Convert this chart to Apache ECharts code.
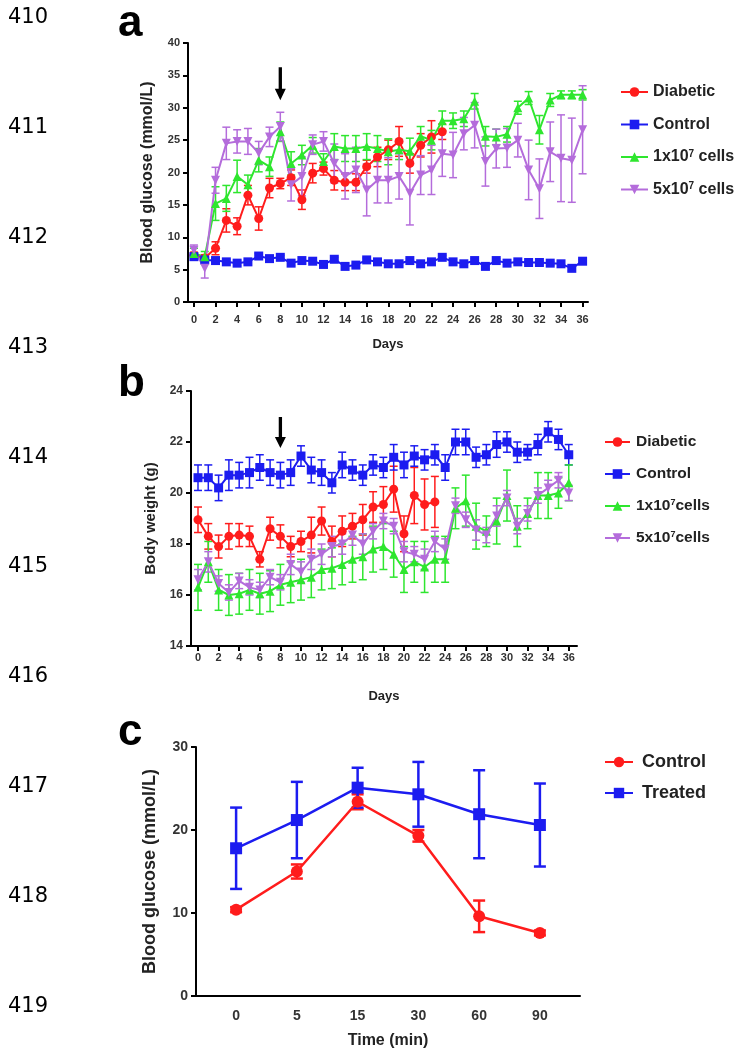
<!DOCTYPE html>
<html>
<head>
<meta charset="utf-8">
<script src="https://cdn.jsdelivr.net/npm/echarts@6.0.0/dist/echarts.min.js"></script>
<style>
html, body { margin: 0; padding: 0; background: #fff; }
#chart { width: 739px; height: 1057px; }
</style>
</head>
<body>
<div id="chart"></div>
<script>
// x values shared by panels a and b
var days = [0,1,2,3,4,5,6,7,8,9,10,11,12,13,14,15,16,17,18,19,20,21,22,23,24,25,26,27,28,29,30,31,32,33,34,35,36];
var dayTicks = [0,2,4,6,8,10,12,14,16,18,20,22,24,26,28,30,32,34,36];

// panel a - blood glucose (mmol/L)
var aDiabetic    = [7.2,6.8,8.3,12.6,11.7,16.5,12.9,17.6,18.3,19.2,15.8,19.9,20.6,18.8,18.5,18.5,20.9,22.4,23.5,24.8,21.4,24.2,25.5,26.3];
var aDiabeticErr = [0.5,0.5,1.0,1.8,1.3,1.5,1.8,1.5,0.8,1.2,1.5,1.5,1.0,1.5,1.3,1.3,1.0,1.5,1.5,2.3,1.5,1.8,2.5,1.2];
var aControl     = [7.0,6.5,6.4,6.2,6.0,6.2,7.1,6.7,6.9,6.0,6.4,6.3,5.8,6.6,5.5,5.7,6.5,6.2,5.9,5.9,6.4,5.9,6.2,6.9,6.2,5.9,6.4,5.5,6.4,6.0,6.2,6.1,6.1,6.0,5.9,5.2,6.3];
var aControlErr  = [0.4,0.3,0.3,0.3,0.4,0.3,0.4,0.3,0.3,0.4,0.3,0.3,0.4,0.3,0.4,0.3,0.3,0.3,0.3,0.3,0.3,0.3,0.3,0.3,0.3,0.3,0.3,0.4,0.3,0.3,0.3,0.3,0.3,0.3,0.3,0.4,0.3];
var aCells1      = [7.5,7.0,15.2,16.0,19.4,18.1,21.9,20.9,26.3,21.4,22.7,24.2,21.7,24.0,23.7,23.7,24.0,23.7,23.2,23.5,23.3,25.6,25.0,28.0,28.0,28.3,31.0,25.6,25.5,25.9,30.0,31.5,26.6,31.2,32.0,32.0,32.0];
var aCells1Err   = [0.8,0.8,2.6,2.0,2.5,1.5,1.8,1.5,1.5,1.8,1.5,1.2,1.2,2.0,2.0,2.0,2.0,2.0,2.0,1.5,2.0,1.5,1.5,1.5,1.2,1.2,1.2,1.5,1.2,1.2,1.0,1.0,2.2,1.0,0.6,0.6,0.8];
var aCells5      = [8.0,5.2,18.8,24.5,24.8,24.8,23.0,25.5,27.1,18.1,19.4,24.3,24.8,21.4,19.4,20.4,17.3,18.8,18.8,19.4,16.8,19.6,20.4,22.9,22.7,26.0,27.3,21.7,23.7,23.8,25.0,20.4,17.5,23.2,22.2,21.9,26.6];
var aCells5Err   = [0.8,1.5,2.0,2.5,1.8,2.0,1.8,1.5,2.2,2.5,3.0,1.5,1.5,3.0,3.5,3.5,4.0,3.5,3.5,3.5,4.9,3.0,3.8,3.5,3.5,2.5,3.5,3.8,3.0,3.0,2.6,4.6,4.6,4.6,6.7,6.5,6.8];

// panel b - body weight (g)
var bDiabetic    = [18.95,18.3,17.9,18.3,18.35,18.3,17.4,18.6,18.3,17.9,18.1,18.35,18.9,18.1,18.5,18.7,18.95,19.45,19.55,20.15,18.4,19.9,19.55,19.65];
var bDiabeticErr = [0.5,0.5,0.45,0.5,0.45,0.4,0.3,0.45,0.45,0.4,0.4,0.7,0.55,0.6,0.6,0.5,0.6,0.6,0.7,0.9,0.7,1.1,1.0,1.0];
var bControl     = [20.6,20.6,20.2,20.7,20.7,20.8,21.0,20.8,20.7,20.8,21.45,20.9,20.8,20.4,21.1,20.9,20.7,21.1,21.0,21.4,21.1,21.45,21.3,21.5,21.0,22.0,22.0,21.4,21.5,21.9,22.0,21.6,21.6,21.9,22.4,22.1,21.5];
var bControlErr  = [0.5,0.5,0.5,0.6,0.5,0.6,0.5,0.5,0.5,0.5,0.4,0.5,0.5,0.4,0.5,0.4,0.4,0.4,0.4,0.5,0.5,0.4,0.4,0.4,0.5,0.5,0.5,0.4,0.4,0.5,0.4,0.4,0.3,0.4,0.4,0.4,0.4];
var bCells1      = [16.3,17.3,16.2,16.0,16.05,16.2,16.05,16.15,16.4,16.5,16.6,16.7,17.0,17.05,17.2,17.4,17.5,17.8,17.9,17.6,17.0,17.3,17.1,17.4,17.4,19.4,19.7,18.7,18.5,18.9,19.9,18.7,19.2,19.9,19.9,20.0,20.4];
var bCells1Err   = [0.9,0.8,0.8,0.8,0.8,0.8,0.8,0.8,0.8,0.8,0.8,0.8,0.8,0.8,0.8,0.9,0.9,0.9,0.9,0.9,0.9,0.8,1.0,0.9,0.9,0.8,1.0,0.9,0.6,0.9,1.0,0.8,0.6,0.9,0.9,0.6,0.7];
var bCells5      = [16.6,17.3,16.45,16.1,16.55,16.3,16.2,16.7,16.5,17.2,16.9,17.4,17.6,17.9,18.0,18.35,18.0,18.5,18.9,18.7,17.7,17.6,17.4,18.1,17.8,19.5,18.95,18.55,18.35,19.1,19.8,18.7,19.2,19.9,20.2,20.5,20.0];
var bCells5Err   = [0.4,0.4,0.3,0.3,0.3,0.3,0.3,0.3,0.3,0.4,0.4,0.4,0.4,0.4,0.4,0.4,0.4,0.3,0.3,0.3,0.4,0.3,0.4,0.4,0.4,0.3,0.3,0.4,0.3,0.4,0.3,0.3,0.3,0.3,0.3,0.3,0.3];

// panel c - glucose tolerance
var cTimes      = ['0','5','15','30','60','90'];
var cControl    = [10.4,15.0,23.4,19.3,9.6,7.6];
var cControlErr = [0.3,0.85,0.9,0.7,1.9,0.3];
var cTreated    = [17.8,21.2,25.1,24.3,21.9,20.6];
var cTreatedErr = [4.9,4.6,2.4,3.9,5.3,5.0];

var lineNumbers = ['410','411','412','413','414','415','416','417','418','419'];

var legendText = {
    aDia: 'Diabetic', aCon: 'Control', aC1: '1x10{s|7} cells', aC5: '5x10{s|7} cells',
    bDia: 'Diabetic', bCon: 'Control', bC1: '1x10{s|7}cells', bC5: '5x10{s|7}cells',
    cCon: 'Control', cTre: 'Treated'
};

var RED = '#ff1c1c', BLUE = '#1c1cf0', GREEN = '#2ee62e', PURPLE = '#b46cdb';
var FONT = '"Liberation Sans", Arial, sans-serif';
var DOWN_TRI = 'path://M0,0L10,0L5,9Z';
var ARROW = 'path://M3.5,0L6.5,0L6.5,22L10,22L5,34L0,22L3.5,22Z';

var cIdx = cTimes.map(function (t, i) { return i; });

function pts(xs, ys) {
    return ys.map(function (v, i) { return [xs[i], v]; });
}

function errSeries(grid, xs, ys, es, color, cap, width) {
    return {
        type: 'custom',
        xAxisIndex: grid,
        yAxisIndex: grid,
        silent: true,
        data: ys.map(function (v, i) { return [xs[i], v - es[i], v + es[i]]; }),
        encode: { x: 0, y: [1, 2] },
        renderItem: function (params, api) {
            var top = api.coord([api.value(0), api.value(2)]);
            var bot = api.coord([api.value(0), api.value(1)]);
            var st = { stroke: color, lineWidth: width };
            return {
                type: 'group',
                children: [
                    { type: 'line', shape: { x1: top[0], y1: top[1], x2: bot[0], y2: bot[1] }, style: st },
                    { type: 'line', shape: { x1: top[0] - cap, y1: top[1], x2: top[0] + cap, y2: top[1] }, style: st },
                    { type: 'line', shape: { x1: bot[0] - cap, y1: bot[1], x2: bot[0] + cap, y2: bot[1] }, style: st }
                ]
            };
        }
    };
}

function lineSeries(name, grid, xs, ys, color, symbol, size, width) {
    return {
        type: 'line',
        name: name,
        xAxisIndex: grid,
        yAxisIndex: grid,
        data: pts(xs, ys),
        symbol: symbol,
        symbolSize: size,
        itemStyle: { color: color },
        lineStyle: { color: color, width: width },
        emphasis: { disabled: true }
    };
}

function arrowMark(coord, size) {
    return {
        silent: true,
        symbol: ARROW,
        symbolSize: size,
        itemStyle: { color: '#000' },
        label: { show: false },
        data: [{ coord: coord }]
    };
}

function valueX(grid, min, max, ticks, fontSize, margin, name, gap, nameSize, fmt, showTicks) {
    return {
        type: 'value',
        gridIndex: grid,
        min: min,
        max: max,
        name: name,
        nameLocation: 'middle',
        nameGap: gap,
        nameTextStyle: { fontFamily: FONT, fontWeight: 'bold', fontSize: nameSize, color: '#222' },
        axisLine: { onZero: false, lineStyle: { color: '#000', width: 2 } },
        axisTick: { show: showTicks, customValues: ticks, length: 5, lineStyle: { color: '#000', width: 2 } },
        axisLabel: { customValues: ticks, margin: margin, fontFamily: FONT, fontWeight: 'bold', fontSize: fontSize, color: '#333', formatter: fmt },
        splitLine: { show: false }
    };
}

function valueY(grid, min, max, interval, fontSize, name, gap, nameSize) {
    return {
        type: 'value',
        gridIndex: grid,
        min: min,
        max: max,
        interval: interval,
        name: name,
        nameLocation: 'middle',
        nameGap: gap,
        nameTextStyle: { fontFamily: FONT, fontWeight: 'bold', fontSize: nameSize, color: '#222' },
        axisLine: { show: true, onZero: false, lineStyle: { color: '#000', width: 2 } },
        axisTick: { show: true, length: 5, lineStyle: { color: '#000', width: 2 } },
        axisLabel: { margin: 8, fontFamily: FONT, fontWeight: 'bold', fontSize: fontSize, color: '#333' },
        splitLine: { show: false }
    };
}

function legend(names, left, top, itemW, itemH, gap, fontSize, lineH, pad) {
    return {
        data: names,
        orient: 'vertical',
        left: left,
        top: top,
        itemWidth: itemW,
        itemHeight: itemH,
        itemGap: gap,
        selectedMode: false,
        formatter: function (n) { return legendText[n]; },
        textStyle: {
            fontFamily: FONT, fontWeight: 'bold', fontSize: fontSize, lineHeight: lineH, color: '#222',
            padding: [0, 0, 0, pad],
            rich: { s: { fontFamily: FONT, fontWeight: 'bold', fontSize: Math.round(fontSize * 0.6), lineHeight: lineH, color: '#222', verticalAlign: 'top' } }
        }
    };
}

var graphics = lineNumbers.map(function (t, i) {
    return {
        type: 'text', x: 8, y: 18 + i * 109.8,
        style: { text: t, fontFamily: '"DejaVu Sans", sans-serif', fontSize: 21, fill: '#000', textVerticalAlign: 'middle' }
    };
});
[['a', 24], ['b', 384], ['c', 733]].forEach(function (p) {
    graphics.push({
        type: 'text', x: 118, y: p[1],
        style: { text: p[0], fontFamily: FONT, fontWeight: 'bold', fontSize: 44, fill: '#000', textVerticalAlign: 'middle' }
    });
});

var dayA = days.slice(0, aDiabetic.length);
var dayB = days.slice(0, bDiabetic.length);

var seriesA = [
    errSeries(0, dayA, aDiabetic, aDiabeticErr, RED, 4, 1.5),
    lineSeries('aDia', 0, dayA, aDiabetic, RED, 'circle', 9, 2),
    errSeries(0, days, aControl, aControlErr, BLUE, 4, 1.5),
    lineSeries('aCon', 0, days, aControl, BLUE, 'rect', 9, 2),
    errSeries(0, days, aCells1, aCells1Err, GREEN, 4, 1.5),
    lineSeries('aC1', 0, days, aCells1, GREEN, 'triangle', 9, 2),
    errSeries(0, days, aCells5, aCells5Err, PURPLE, 4, 1.5),
    lineSeries('aC5', 0, days, aCells5, PURPLE, DOWN_TRI, 9, 2)
];
seriesA[3].markPoint = arrowMark([8, 33.7], [11, 33]);

var seriesB = [
    errSeries(1, dayB, bDiabetic, bDiabeticErr, RED, 4, 1.5),
    lineSeries('bDia', 1, dayB, bDiabetic, RED, 'circle', 9, 2),
    errSeries(1, days, bControl, bControlErr, BLUE, 4, 1.5),
    lineSeries('bCon', 1, days, bControl, BLUE, 'rect', 9, 2),
    errSeries(1, days, bCells1, bCells1Err, GREEN, 4, 1.5),
    lineSeries('bC1', 1, days, bCells1, GREEN, 'triangle', 9, 2),
    errSeries(1, days, bCells5, bCells5Err, PURPLE, 4, 1.5),
    lineSeries('bC5', 1, days, bCells5, PURPLE, DOWN_TRI, 9, 2)
];
seriesB[3].markPoint = arrowMark([8, 22.37], [11, 31]);

var seriesC = [
    errSeries(2, cIdx, cControl, cControlErr, RED, 6, 2.5),
    lineSeries('cCon', 2, cIdx, cControl, RED, 'circle', 12, 2.5),
    errSeries(2, cIdx, cTreated, cTreatedErr, BLUE, 6, 2.5),
    lineSeries('cTre', 2, cIdx, cTreated, BLUE, 'rect', 12, 2.5)
];

var chart = echarts.init(document.getElementById('chart'), null, { renderer: 'canvas' });
chart.setOption({
    backgroundColor: '#fff',
    animation: false,
    grid: [
        { left: 188, top: 43, width: 400, height: 259 },
        { left: 191, top: 391, width: 386, height: 255 },
        { left: 196, top: 747, width: 384, height: 249 }
    ],
    xAxis: [
        valueX(0, -0.55, 36.5, dayTicks, 11, 12, 'Days', 36, 13, null, true),
        valueX(1, -0.68, 36.8, dayTicks, 11, 6, 'Days', 44, 13, null, true),
        valueX(2, -0.66, 5.66, cIdx, 14, 13, 'Time (min)', 37, 16, function (v) { return cTimes[v]; }, false)
    ],
    yAxis: [
        valueY(0, 0, 40, 5, 11, 'Blood glucose (mmol/L)', 32, 16),
        valueY(1, 14, 24, 2, 12, 'Body weight (g)', 33, 15),
        valueY(2, 0, 30, 10, 14, 'Blood glucose (mmol/L)', 37, 18)
    ],
    legend: [
        legend(['aDia', 'aCon', 'aC1', 'aC5'], 615, 79, 27, 12, 16.5, 16, 16, 0),
        legend(['bDia', 'bCon', 'bC1', 'bC5'], 599, 429, 25, 12, 16, 15.5, 16, 1),
        legend(['cCon', 'cTre'], 599, 748, 28, 13, 13, 18, 18, 4)
    ],
    graphic: graphics,
    series: seriesA.concat(seriesB, seriesC)
});
</script>
</body>
</html>
